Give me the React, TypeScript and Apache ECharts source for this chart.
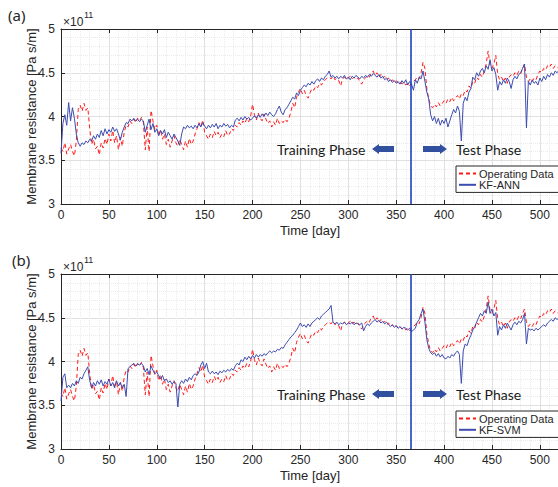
import React, { useEffect, useRef } from 'react';
import * as echarts from 'echarts';

// sampling: one value every DAY_STEP days, starting at day 0 (values in 1e11 Pa s/m)
const DAY_STEP = 2;
const X_MAX = 520;
const TEST_START_DAY = 365;

const operatingData = [
  3.64, 3.60, 3.70, 3.57, 3.63, 3.68, 3.60, 3.55, 3.72, 4.08,
  4.13, 4.06, 4.15, 4.07, 4.10, 3.86, 3.68, 3.74, 3.63, 3.66,
  3.56, 3.70, 3.64, 3.75, 3.68, 3.80, 3.72, 3.84, 3.70, 3.78,
  3.62, 3.76, 3.66, 3.82, 3.90, 3.88, 3.95, 3.92, 3.97, 3.93,
  3.98, 3.95, 3.99, 3.93, 3.62, 3.88, 3.60, 4.07, 3.95, 3.85,
  3.90, 3.78, 3.85, 3.74, 3.80, 3.68, 3.74, 3.65, 3.72, 3.78,
  3.70, 3.66, 3.74, 3.68, 3.62, 3.72, 3.65, 3.75, 3.68, 3.72,
  3.80, 3.86, 3.93, 3.88, 3.96, 3.82, 3.78, 3.74, 3.80, 3.76,
  3.83, 3.78, 3.82, 3.76, 3.80, 3.77, 3.84, 3.78, 3.80, 3.86,
  3.84, 3.90, 3.88, 3.93, 3.90, 3.95, 3.92, 3.98, 3.94, 4.00,
  4.14, 4.02, 3.96, 4.04, 3.98, 3.95, 4.03, 3.97, 3.92, 3.95,
  3.88, 3.94, 3.90, 3.98, 3.92, 3.95, 3.93, 3.97, 3.94, 3.98,
  4.05, 4.15, 4.10, 4.22, 4.28, 4.32, 4.26, 4.30, 4.24, 4.21,
  4.27, 4.32, 4.30, 4.35, 4.33, 4.38, 4.36, 4.40, 4.42, 4.44,
  4.45, 4.43, 4.46, 4.42, 4.44, 4.41, 4.35, 4.43, 4.45, 4.42,
  4.44, 4.46, 4.43, 4.45, 4.42, 4.44, 4.40, 4.37, 4.42, 4.44,
  4.47, 4.45, 4.50, 4.52, 4.47, 4.50, 4.45, 4.48, 4.44, 4.46,
  4.42, 4.44, 4.40, 4.42, 4.39, 4.41, 4.38, 4.40, 4.37, 4.39,
  4.36, 4.38, 4.35, 4.38, 4.40, 4.42, 4.45, 4.43, 4.50, 4.62,
  4.55, 4.32, 4.20, 4.12, 4.10, 4.14, 4.11, 4.16, 4.12, 4.15,
  4.18, 4.15, 4.20, 4.17, 4.22, 4.18, 4.21, 4.24, 4.20, 4.26,
  4.24, 4.30, 4.28, 4.35, 4.32, 4.40, 4.38, 4.45, 4.42, 4.48,
  4.45, 4.52, 4.60, 4.75, 4.58, 4.55, 4.60, 4.70, 4.48, 4.42,
  4.45, 4.40, 4.44, 4.38, 4.45, 4.48, 4.46, 4.50, 4.47, 4.52,
  4.49, 4.55, 4.60, 4.45, 4.40, 4.43, 4.40, 4.44, 4.42, 4.48,
  4.52, 4.50, 4.55, 4.53, 4.58, 4.56, 4.60, 4.55, 4.58, 4.56,
  4.55,
];

const kfAnn = [
  3.58, 3.92, 4.02, 3.90, 4.16, 3.95, 4.10, 3.98, 3.80, 3.70,
  3.66, 3.70, 3.68, 3.72, 3.70, 3.74, 3.72, 3.78, 3.74, 3.80,
  3.76, 3.84, 3.78, 3.86, 3.80, 3.85, 3.82, 3.88, 3.83, 3.86,
  3.80, 3.73, 3.82, 3.88, 3.93, 3.92, 3.97, 3.95, 3.98, 3.95,
  3.97, 3.94, 3.97, 3.95, 3.82, 3.90, 3.97, 3.85, 3.92, 3.82,
  3.86, 3.78, 3.84, 3.80, 3.85, 3.76, 3.82, 3.78, 3.74, 3.80,
  3.76, 3.72, 3.67, 3.80, 3.88, 3.86, 3.90, 3.87, 3.89, 3.86,
  3.90, 3.87, 3.92, 3.88, 3.93, 3.89, 3.86, 3.90, 3.87, 3.91,
  3.88, 3.92, 3.86, 3.90, 3.88, 3.92, 3.89, 3.91, 3.87, 3.90,
  3.88, 3.96, 3.98, 3.95, 3.99, 3.96, 4.00, 3.97, 3.99, 3.96,
  3.98, 4.01, 3.98, 4.02, 3.99, 4.03, 4.00, 4.04, 4.01, 4.05,
  4.02, 4.00, 4.03, 4.08, 4.12, 4.05, 4.02, 4.08, 4.10, 4.14,
  4.18, 4.22, 4.20, 4.27, 4.24, 4.30, 4.33, 4.36, 4.34, 4.38,
  4.36, 4.40, 4.37, 4.41, 4.43, 4.40, 4.44, 4.42, 4.46, 4.48,
  4.52, 4.45, 4.47, 4.44, 4.46, 4.43, 4.46, 4.44, 4.47, 4.43,
  4.45, 4.42, 4.46, 4.44, 4.47, 4.45, 4.43, 4.46, 4.44, 4.47,
  4.45, 4.48, 4.46, 4.49, 4.47, 4.45, 4.48, 4.44, 4.46, 4.42,
  4.44, 4.40, 4.42, 4.39, 4.41, 4.38, 4.40, 4.37, 4.41, 4.38,
  4.42, 4.36, 4.40, 4.37, 4.30, 4.42, 4.38, 4.45, 4.43, 4.52,
  4.40, 4.28, 4.20, 4.02, 3.95, 4.00, 3.92, 3.98, 3.90, 3.96,
  3.92, 3.98, 3.88, 3.95, 4.02, 4.08, 4.04, 4.12, 4.06, 3.72,
  4.15, 4.22, 4.18, 4.28, 4.32, 4.45, 4.42, 4.50, 4.46, 4.52,
  4.55, 4.50, 4.58, 4.54, 4.65, 4.52, 4.56, 4.48, 4.30, 4.40,
  4.36, 4.42, 4.38, 4.44, 4.40, 4.32, 4.42, 4.46, 4.43, 4.48,
  4.50, 4.55, 4.60, 3.87, 4.40, 4.36, 4.42, 4.38, 4.40, 4.36,
  4.44, 4.40, 4.46, 4.42, 4.48, 4.45, 4.50, 4.47, 4.52, 4.50,
  4.53,
];

const kfSvm = [
  3.55, 3.82, 3.86, 3.70, 3.73, 3.70, 3.75, 3.72, 3.78, 3.75,
  3.82, 3.80, 3.86, 3.90, 3.94, 3.78, 3.70, 3.76, 3.72, 3.78,
  3.74, 3.79, 3.72, 3.77, 3.74, 3.80, 3.72, 3.76, 3.70, 3.78,
  3.72, 3.76, 3.70, 3.74, 3.60, 3.92, 3.94, 3.96, 3.98, 3.95,
  3.97, 3.96, 3.98, 3.95, 3.88, 3.92, 3.85, 3.95, 3.90, 3.86,
  3.88, 3.84, 3.80, 3.84, 3.78, 3.80, 3.76, 3.78, 3.74, 3.77,
  3.75, 3.48, 3.74, 3.78, 3.75, 3.80, 3.77, 3.82, 3.79, 3.84,
  3.86, 3.84, 3.88, 3.96, 4.00, 3.92, 3.98, 3.88, 3.86, 3.89,
  3.86, 3.88, 3.85, 3.89, 3.87, 3.90, 3.88, 3.91, 3.89, 3.92,
  3.90, 3.95, 3.98, 3.96, 4.02, 4.00, 4.05, 4.02, 4.06, 4.03,
  4.07, 4.04, 4.08, 4.05, 4.08, 4.06, 4.09, 4.07, 4.10, 4.12,
  4.10, 4.12, 4.11, 4.14, 4.13, 4.16, 4.15, 4.19, 4.22, 4.25,
  4.28, 4.30, 4.33, 4.36, 4.40, 4.44, 4.40, 4.42, 4.39, 4.43,
  4.40, 4.44, 4.46, 4.48, 4.50, 4.48, 4.52, 4.54, 4.56, 4.58,
  4.60, 4.64, 4.45, 4.43, 4.45, 4.42, 4.44, 4.43, 4.45, 4.42,
  4.44, 4.43, 4.45, 4.42, 4.44, 4.43, 4.42, 4.44, 4.35, 4.40,
  4.43, 4.41, 4.44, 4.46, 4.48, 4.45, 4.47, 4.44, 4.46, 4.43,
  4.45, 4.42, 4.40, 4.42, 4.39, 4.41, 4.38, 4.40, 4.37, 4.39,
  4.38, 4.36, 4.38, 4.34, 4.36, 4.38, 4.45, 4.48, 4.55, 4.60,
  4.45, 4.25, 4.15, 4.10, 4.08, 4.10, 4.06, 4.09, 4.05, 4.08,
  4.04, 4.03, 4.06, 4.04, 4.08, 4.06, 4.10, 4.12, 4.08, 3.75,
  4.12, 4.20, 4.18, 4.25, 4.30, 4.36, 4.40, 4.45, 4.50, 4.55,
  4.52, 4.58, 4.55, 4.68, 4.55, 4.60, 4.52, 4.56, 4.30, 4.40,
  4.36, 4.42, 4.38, 4.44, 4.40, 4.36, 4.42, 4.45, 4.42, 4.46,
  4.44, 4.48, 4.55, 4.20, 4.38, 4.36, 4.37, 4.35, 4.38, 4.36,
  4.38, 4.40, 4.42, 4.40, 4.44, 4.46, 4.48, 4.46, 4.50, 4.48,
  4.50,
];

const panelLabels = ['(a)', '(b)'];
const modelNames = ['KF-ANN', 'KF-SVM'];
const modelValues = [kfAnn, kfSvm];
const OPERATING = 'Operating Data';

const FONT = '"Liberation Sans", Arial, sans-serif';
const AX = '#262626';
const RED = '#ff1a1a';
const BLUE = '#3d4caf';

const toPairs = (arr: number[]) => arr.map((v, i) => [i * DAY_STEP, v]);

const GRID_TOPS = [29, 274];
const GRID_H = 175;

function buildOption() {
  const grids: any[] = [];
  const xAxes: any[] = [];
  const yAxes: any[] = [];
  const series: any[] = [];
  const legends: any[] = [];
  const graphics: any[] = [];

  GRID_TOPS.forEach((top, g) => {
    grids.push({ left: 61, top, height: GRID_H, width: 498, show: false });
    xAxes.push({
      type: 'value', gridIndex: g, min: 0, max: X_MAX, interval: 50, position: 'bottom',
      name: 'Time [day]', nameLocation: 'middle', nameGap: 20, nameMoveOverlap: false,
      nameTextStyle: { fontSize: 13, color: AX, fontFamily: FONT },
      axisLine: { show: true, onZero: false, lineStyle: { color: AX, width: 1 } },
      axisTick: { show: true, inside: true, length: 4, lineStyle: { color: AX } },
      axisLabel: { fontSize: 12, color: AX, fontFamily: FONT, margin: 5,
        formatter: (v: number) => (v % 50 === 0 ? String(v) : '') },
      splitLine: { show: true, lineStyle: { color: '#e0e0e0', width: 1 } },
      minorTick: { show: false, splitNumber: 5 },
      minorSplitLine: { show: true, lineStyle: { color: '#ebebeb', type: 'dotted', width: 1 } },
    });
    xAxes.push({
      type: 'value', gridIndex: g, min: 0, max: X_MAX, interval: 50, position: 'top',
      axisLine: { show: true, onZero: false, lineStyle: { color: AX, width: 1 } },
      axisTick: { show: true, inside: true, length: 4, lineStyle: { color: AX } },
      axisLabel: { show: false }, splitLine: { show: false },
    });
    yAxes.push({
      type: 'value', gridIndex: g, min: 3, max: 5, interval: 0.5,
      name: 'Membrane resistance [Pa s/m]', nameLocation: 'middle', nameGap: 23, nameMoveOverlap: false,
      nameTextStyle: { fontSize: 13, color: AX, fontFamily: FONT },
      axisLine: { show: true, onZero: false, lineStyle: { color: AX, width: 1 } },
      axisTick: { show: true, inside: true, length: 4, lineStyle: { color: AX } },
      axisLabel: { fontSize: 12, color: AX, fontFamily: FONT, margin: 6 },
      splitLine: { show: true, lineStyle: { color: '#e0e0e0', width: 1 } },
      minorTick: { show: false, splitNumber: 5 },
      minorSplitLine: { show: true, lineStyle: { color: '#ebebeb', type: 'dotted', width: 1 } },
    });
    series.push({
      name: OPERATING, type: 'line', xAxisIndex: g * 2, yAxisIndex: g,
      data: toPairs(operatingData), symbol: 'none', z: 2,
      lineStyle: { color: RED, width: 1, type: [4, 3] }, itemStyle: { color: RED },
    });
    series.push({
      name: modelNames[g], type: 'line', xAxisIndex: g * 2, yAxisIndex: g,
      data: toPairs(modelValues[g]), symbol: 'none', z: 3,
      lineStyle: { color: BLUE, width: 1 }, itemStyle: { color: BLUE },
      markLine: {
        silent: true, symbol: ['none', 'none'], label: { show: false },
        lineStyle: { color: '#1f3fbf', width: 1.6, type: 'solid' },
        data: [{ xAxis: TEST_START_DAY }],
      },
    });
    legends.push({
      data: [OPERATING, modelNames[g]], orient: 'vertical', left: 456, top: top + 137,
      padding: [2, 5, 2, 2], itemGap: 0, itemWidth: 17, itemHeight: 14,
      borderColor: AX, borderWidth: 1, backgroundColor: '#fff', borderRadius: 0,
      textStyle: { fontSize: 11, color: AX, fontFamily: FONT, padding: [0, 0, 0, -2] },
      itemStyle: { opacity: 0 }, selectedMode: false, z: 20,
    });

    const ty = top + 120;
    graphics.push(
      { type: 'text', left: g === 0 ? 8 : 12, top: top - 22, z: 50,
        style: { text: panelLabels[g], font: '15px "Noto Sans", sans-serif', fill: AX } },
      { type: 'text', x: 63, y: top - 7, z: 50,
        style: { text: '×10', font: '12px ' + FONT, fill: AX, verticalAlign: 'middle' } },
      { type: 'text', x: 84, y: top - 14, z: 50,
        style: { text: '11', font: '9px ' + FONT, fill: AX, verticalAlign: 'middle' } },
      { type: 'text', x: 277, y: ty, z: 50,
        style: { text: 'Training Phase', font: '14px Lato, sans-serif', fill: '#1a1a1a', verticalAlign: 'middle' } },
      { type: 'text', x: 456, y: ty, z: 50,
        style: { text: 'Test Phase', font: '14px Lato, sans-serif', fill: '#1a1a1a', verticalAlign: 'middle' } },
      { type: 'polygon', z: 50,
        shape: { points: [[372, ty], [379, ty - 5], [379, ty - 3], [394, ty - 3], [394, ty + 3], [379, ty + 3], [379, ty + 5]] },
        style: { fill: '#3150a0', stroke: 'none' } },
      { type: 'polygon', z: 50,
        shape: { points: [[447, ty], [440, ty - 5], [440, ty - 3], [423, ty - 3], [423, ty + 3], [440, ty + 3], [440, ty + 5]] },
        style: { fill: '#3150a0', stroke: 'none' } },
    );
  });

  return {
    animation: false,
    backgroundColor: '#fff',
    grid: grids, xAxis: xAxes, yAxis: yAxes, series, legend: legends, graphic: graphics,
  };
}

export default function App() {
  const ref = useRef<HTMLDivElement>(null);
  useEffect(() => {
    if (!ref.current) return;
    const chart = echarts.init(ref.current, undefined, { renderer: 'svg' });
    chart.setOption(buildOption());
    return () => chart.dispose();
  }, []);
  return (
    <div style={{ position: 'fixed', left: 0, top: 0, width: 558, height: 487, overflow: 'hidden', background: '#fff' }}>
      <div ref={ref} style={{ width: 566, height: 487 }} />
    </div>
  );
}
